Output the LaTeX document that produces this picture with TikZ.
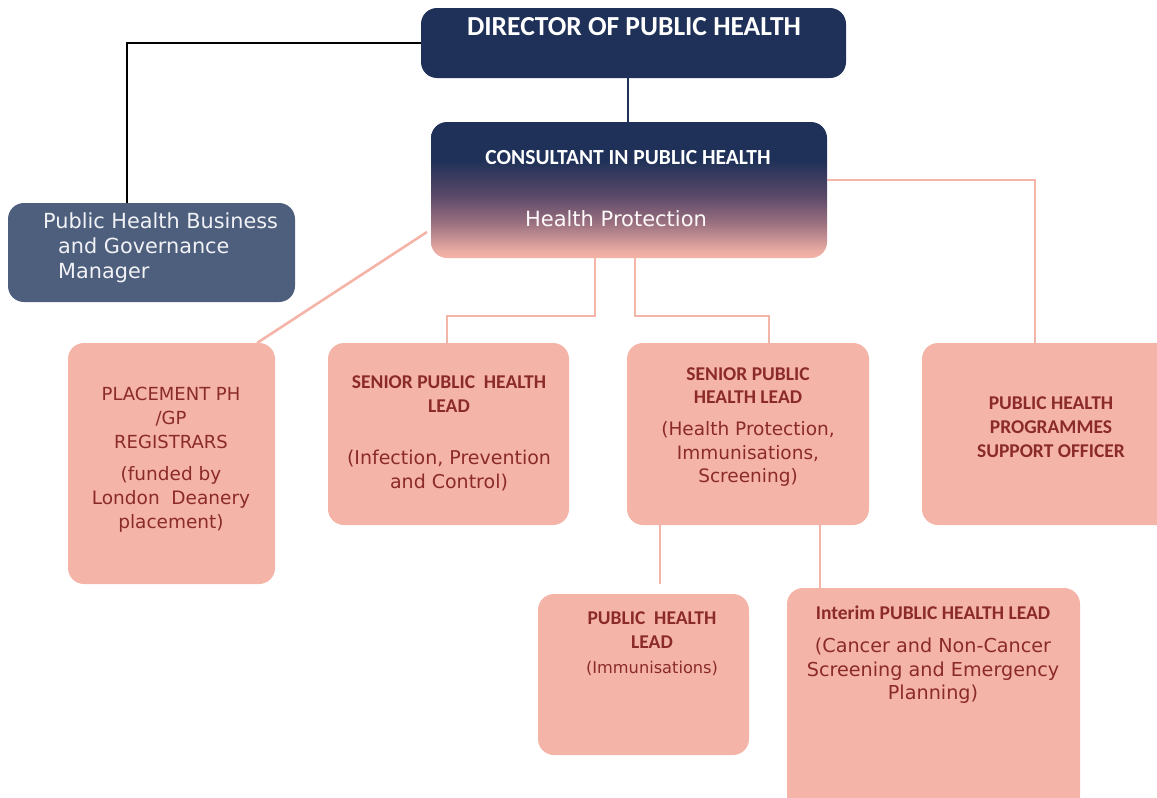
\documentclass[tikz,border=0pt]{standalone}
\usepackage{fontspec}
\setmainfont{Carlito}
\newfontfamily\tah{DejaVu Sans}
\usetikzlibrary{positioning}
\definecolor{navy}{HTML}{1F3158}
\definecolor{slate}{HTML}{4E5F7E}
\definecolor{pinkbox}{HTML}{F5B4A8}
\definecolor{pinkline}{HTML}{F5B4A8}
\definecolor{redtext}{HTML}{8B2A2A}
\definecolor{midpurple}{HTML}{5A4868}
\definecolor{lowpurple}{HTML}{9A7080}
\pgfdeclareverticalshading{consult}{100bp}{color(0bp)=(pinkbox); color(25bp)=(pinkbox); color(28bp)=(pinkbox!85!lowpurple); color(38bp)=(lowpurple); color(48bp)=(midpurple); color(61bp)=(navy); color(75bp)=(navy); color(100bp)=(navy)}
\tikzset{
  box/.style={rounded corners=16pt, inner sep=0pt},
  pinkrect/.style={box, fill=pinkbox},
  btxt/.style={font=\bfseries, text=redtext, align=center},
  rtxt/.style={font=\tah, text=redtext, align=center},
  pconn/.style={draw=pinkline, line width=2.6pt},
}
\begin{document}
\begin{tikzpicture}[x=1pt,y=-1pt]
\useasboundingbox (0,0) rectangle (1157,798);
% boxes
\path[box, fill=navy] (421,8) rectangle (846,78);
\coordinate (dirL) at (421,43);
\coordinate (dirB) at (628,78);
\node[font=\bfseries\fontsize{27.5}{30}\selectfont, text=white] (dir) at (634,27) {DIRECTOR OF PUBLIC HEALTH};

\path[box, shading=consult] (431,122) rectangle (827,258);
\coordinate (conT) at (628,122);
\node[font=\bfseries\fontsize{21.5}{24}\selectfont, text=white] (con) at (628,158) {CONSULTANT IN PUBLIC HEALTH};
\node[font=\tah\fontsize{21}{24}\selectfont, text=white!92!pinkbox] (hp) at (616,219) {Health Protection};

\path[box, fill=slate] (8,203) rectangle (295,302);
\node[font=\tah\fontsize{20.8}{25}\selectfont, text=white!92!slate, align=left, anchor=north west, inner sep=0pt] (biz) at (43,212) {Public Health Business\\\hspace*{15pt}and Governance\\\hspace*{15pt}Manager};

% pink boxes
\path[pinkrect] (68,343) rectangle (275,584);
\node[rtxt, font=\tah\fontsize{18}{24}\selectfont] (pl1) at (171,418) {PLACEMENT PH\\ /GP\\REGISTRARS};
\node[rtxt, font=\tah\fontsize{18.5}{24}\selectfont] (pl2) at (171,499) {(funded by\\London\ \ Deanery\\placement)};

\path[pinkrect] (328,343) rectangle (569,525);
\node[btxt, font=\bfseries\fontsize{19.5}{24}\selectfont] (s1a) at (449,394) {SENIOR PUBLIC\ \ HEALTH\\LEAD};
\node[rtxt, font=\tah\fontsize{19}{24}\selectfont] (s1b) at (449,471) {(Infection, Prevention\\and Control)};

\path[pinkrect] (627,343) rectangle (869,525);
\node[btxt, font=\bfseries\fontsize{19.5}{23}\selectfont] (s2a) at (748,386) {SENIOR PUBLIC\\HEALTH LEAD};
\node[rtxt, font=\tah\fontsize{18.5}{23.5}\selectfont] (s2b) at (748,454) {(Health Protection,\\Immunisations,\\Screening)};

\path[pinkrect] (922,343) rectangle (1180,525);
\node[btxt, font=\bfseries\fontsize{19.5}{24}\selectfont] (sup) at (1051,427) {PUBLIC HEALTH\\PROGRAMMES\\SUPPORT OFFICER};

\path[pinkrect] (538,594) rectangle (749,755);
\node[btxt, font=\bfseries\fontsize{19.5}{24}\selectfont] (pha) at (652,630) {PUBLIC\ \ HEALTH\\LEAD};
\node[rtxt, font=\tah\fontsize{16.2}{19}\selectfont] (phb) at (652,668) {(Immunisations)};

\path[pinkrect] (787,588) rectangle (1080,830);
\node[btxt, font=\bfseries\fontsize{19.5}{22}\selectfont] (ina) at (933,613) {Interim PUBLIC HEALTH LEAD};
\node[rtxt, font=\tah\fontsize{19.2}{23.5}\selectfont] (inb) at (933,671) {(Cancer and Non-Cancer\\Screening and Emergency\\Planning)};

% connectors
\coordinate (bizT) at (127,203);
\draw[black, line width=1.2pt] (dirL) -| (bizT);
\draw[navy, line width=2pt] (dirB) -- (conT);

\coordinate (conLL) at (427,232);
\coordinate (plT) at (257,343);
\draw[pconn] (conLL) -- (plT);

\coordinate (cb1) at (595,258);
\coordinate (s1T) at (447,343);
\draw[pconn] (cb1) |- (521,316) -| (s1T);

\coordinate (cb2) at (635,258);
\coordinate (s2T) at (769,343);
\draw[pconn] (cb2) |- (700,316) -| (s2T);

\coordinate (conR) at (827,180);
\coordinate (supT) at (1035,343);
\draw[pconn] (conR) -| (supT);

\coordinate (s2B1) at (660,525);
\coordinate (phEnd) at (660,584);
\draw[pconn] (s2B1) -- (phEnd);

\coordinate (s2B2) at (820,525);
\coordinate (inT) at (820,588);
\draw[pconn] (s2B2) -- (inT);
\end{tikzpicture}
\end{document}
